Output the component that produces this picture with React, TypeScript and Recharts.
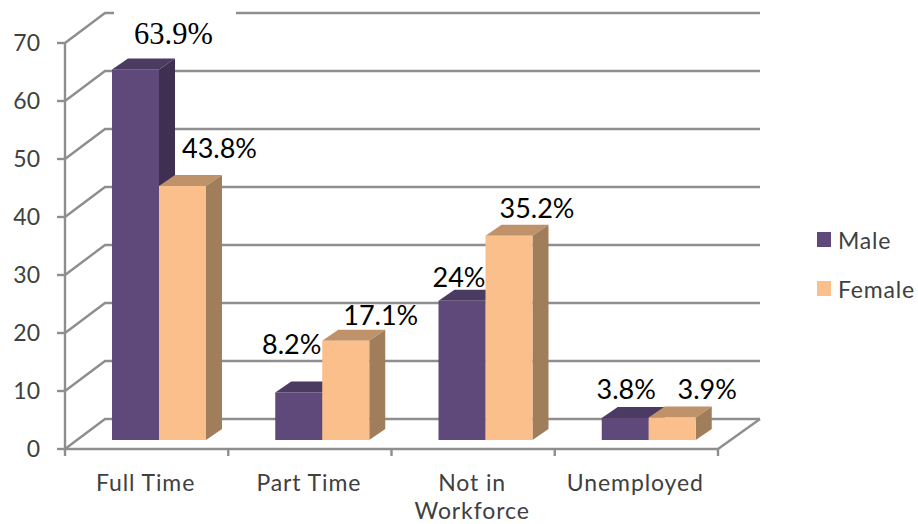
import React from 'react';
import { BarChart, Bar, XAxis, YAxis, CartesianGrid, Legend, LabelList } from 'recharts';

const categories = ['Full Time', 'Part Time', 'Not in Workforce', 'Unemployed'];
const maleValues = [63.9, 8.2, 24, 3.8];
const femaleValues = [43.8, 17.1, 35.2, 3.9];
const yTicks = [0, 10, 20, 30, 40, 50, 60, 70];
const seriesOrder = ['Male', 'Female'];

const rows = categories.map((category, i) => ({
  category,
  Male: maleValues[i],
  Female: femaleValues[i],
}));

const SANS = 'Lato, "Noto Sans", sans-serif';
const SERIF = '"Liberation Serif", serif';
const GRID = '#8e8e8e';
const AXIS_TEXT = '#404040';

// Oblique projection of the chart box: back wall offset from the front plane.
const WALL_DX = 40;
const WALL_DY = -30;
// Bars stand part-way into the floor, and have a small depth of their own.
const BAR_SHIFT_X = 12;
const BAR_SHIFT_Y = -9;
const BAR_DX = 16;
const BAR_DY = -11;

const maleShades = { front: '#5f497a', top: '#4b3a62', side: '#3f3052' };
const femaleShades = { front: '#fbbf8c', top: '#bf9269', side: '#a07d5b' };

// Label nudges relative to the top centre of each bar's front face.
const maleLabelNudge = [[38, -25], [-7, -38], [-3, -14], [1, -19]];
const femaleLabelNudge = [[37, -28], [35, -16], [28, -18], [35, -18]];

const Bar3D = (shades: { front: string; top: string; side: string }) => (props: any) => {
  const { x, y, width, height } = props;
  const left = x + BAR_SHIFT_X;
  const right = left + width;
  const top = y + BAR_SHIFT_Y;
  const bottom = top + height;
  return (
    <g>
      <polygon
        points={`${left},${top} ${right},${top} ${right + BAR_DX},${top + BAR_DY} ${left + BAR_DX},${top + BAR_DY}`}
        fill={shades.top}
      />
      <polygon
        points={`${right},${top} ${right + BAR_DX},${top + BAR_DY} ${right + BAR_DX},${bottom + BAR_DY} ${right},${bottom}`}
        fill={shades.side}
      />
      <rect x={left} y={top} width={width} height={height} fill={shades.front} />
    </g>
  );
};

// One gridline: a slanted run up the side wall, then across the back wall.
const WallGridLine = (props: any) => {
  const { x1, x2, y1, index } = props;
  const backY = y1 + WALL_DY;
  const isFloor = Math.abs(y1 - 449) < 1;
  return (
    <g key={`wall-${index}`} stroke={GRID} strokeWidth={2.4} fill="none">
      <polyline
        points={`${x1},${y1} ${x1 + WALL_DX},${backY} ${x2 + WALL_DX + 2},${backY}`}
      />
      {isFloor && <line x1={x2} y1={y1} x2={x2 + WALL_DX + 2} y2={backY} />}
    </g>
  );
};

const CategoryTick = (props: any) => {
  const { x, y, payload, index, width, visibleTicksCount } = props;
  const band = width / visibleTicksCount;
  const words: string[] = String(payload.value).split(' ');
  const lines = words.length > 2 ? [words.slice(0, 2).join(' '), words.slice(2).join(' ')] : [words.join(' ')];
  const axisY = y - 8;
  return (
    <g>
      <line x1={x - band / 2} x2={x - band / 2} y1={axisY} y2={axisY + 7} stroke={GRID} strokeWidth={2.4} />
      {index === categories.length - 1 && (
        <line x1={x + band / 2} x2={x + band / 2} y1={axisY} y2={axisY + 7} stroke={GRID} strokeWidth={2.4} />
      )}
      {lines.map((line, i) => (
        <text
          key={line}
          x={x - 1}
          y={axisY + 42 + i * 28}
          textAnchor="middle"
          fontFamily={SANS}
          fontSize={23}
          letterSpacing={0.9}
          fill={AXIS_TEXT}
        >
          {line}
        </text>
      ))}
    </g>
  );
};

const ValueLabel = (nudges: number[][], serifIndex: number) => (props: any) => {
  const { x, y, width, value, index } = props;
  const cx = x + width / 2 + BAR_SHIFT_X + nudges[index][0];
  const baseline = y + BAR_SHIFT_Y + nudges[index][1];
  const isSerif = index === serifIndex;
  return (
    <g>
      {isSerif && <rect x={114} y={0} width={122} height={56} fill="#ffffff" />}
      <text
        x={cx}
        y={baseline}
        textAnchor="middle"
        fontFamily={isSerif ? SERIF : SANS}
        fontSize={isSerif ? 30.5 : 27}
        fill="#000000"
      >
        {`${value}%`}
      </text>
    </g>
  );
};

const LegendBlock = ({ payload }: any) => {
  const entries = [...(payload || [])].sort(
    (a: any, b: any) => seriesOrder.indexOf(a.value) - seriesOrder.indexOf(b.value),
  );
  return (
    <div style={{ fontFamily: SANS, fontSize: 23, letterSpacing: 0.8, color: AXIS_TEXT }}>
      {entries.map((entry: any) => (
        <div key={entry.value} style={{ display: 'flex', alignItems: 'center', height: 49 }}>
          <span style={{ display: 'inline-block', width: 14, height: 15, marginRight: 7, background: entry.color }} />
          <span>{entry.value}</span>
        </div>
      ))}
    </div>
  );
};

export default function App() {
  return (
    <div style={{ position: 'absolute', left: 0, top: 0 }}>
      <BarChart
        width={918}
        height={524}
        data={rows}
        margin={{ top: 43, right: 200, bottom: 0, left: 0 }}
        barSize={47}
        barGap={0}
      >
        <CartesianGrid vertical={false} horizontal={WallGridLine as any} />
        <XAxis
          dataKey="category"
          height={75}
          axisLine={{ stroke: GRID, strokeWidth: 2.4 }}
          tickLine={false}
          interval={0}
          tick={CategoryTick as any}
        />
        <YAxis
          width={65}
          domain={[0, 70]}
          ticks={yTicks}
          axisLine={{ stroke: GRID, strokeWidth: 2.4 }}
          tickLine={{ stroke: GRID, strokeWidth: 2.4 }}
          tickSize={8}
          tickMargin={17}
          tick={{ fontFamily: SANS, fontSize: 23, fill: AXIS_TEXT }}
        />
        <Legend
          layout="horizontal"
          verticalAlign="middle"
          align="center"
          content={LegendBlock as any}
          wrapperStyle={{ position: 'absolute', left: 817, top: 215, width: 101 }}
        />
        <Bar dataKey="Male" name="Male" fill={maleShades.front} shape={Bar3D(maleShades)} isAnimationActive={false}>
          <LabelList dataKey="Male" content={ValueLabel(maleLabelNudge, 0) as any} />
        </Bar>
        <Bar dataKey="Female" name="Female" fill={femaleShades.front} shape={Bar3D(femaleShades)} isAnimationActive={false}>
          <LabelList dataKey="Female" content={ValueLabel(femaleLabelNudge, -1) as any} />
        </Bar>
      </BarChart>
    </div>
  );
}
